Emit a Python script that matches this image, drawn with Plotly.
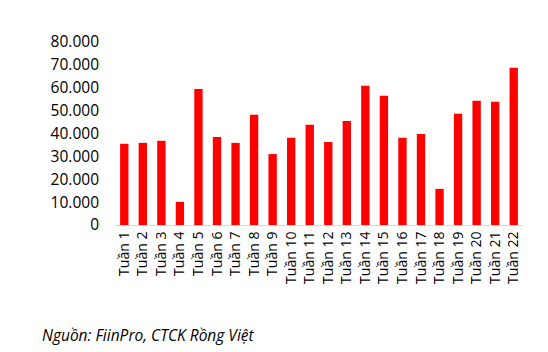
import plotly.graph_objects as go

categories = [f"Tuần {i}" for i in range(1, 23)]
values = [35500, 35900, 36800, 10100, 59500, 38500, 35900, 48200, 31000, 38100,
          43800, 36300, 45500, 60900, 56500, 38100, 39800, 15800, 48600, 54300,
          53900, 68700]
y_ticks = [0, 10000, 20000, 30000, 40000, 50000, 60000, 70000, 80000]
source_text = "Nguồn: FiinPro, CTCK Rồng Việt"

fig = go.Figure(go.Bar(x=categories, y=values, marker_color="#ff0000",
                       marker_line_width=0))
fig.update_layout(
    width=548, height=352,
    margin=dict(l=115, r=25, t=42, b=127),
    plot_bgcolor="white", paper_bgcolor="white",
    separators=",.",
    bargap=0.55,
    showlegend=False,
    font=dict(family="Open Sans", size=14, color="#000000"),
    xaxis=dict(tickangle=-90, showline=True, linecolor="#d9d9d9", linewidth=1,
               ticks="", showgrid=False, tickfont=dict(size=14)),
    yaxis=dict(range=[0, 80000], tickvals=y_ticks, tickformat=",d",
               showgrid=False, zeroline=False, showline=False, ticks="",
               tickfont=dict(size=15.5), ticklabelstandoff=15),
    annotations=[dict(text=source_text, xref="paper", yref="paper",
                      x=-75/408, y=-(335-225)/183, xanchor="left", yanchor="middle",
                      showarrow=False,
                      font=dict(family="Open Sans", size=15.5, style="italic"))],
)
fig.write_html("out.html")
